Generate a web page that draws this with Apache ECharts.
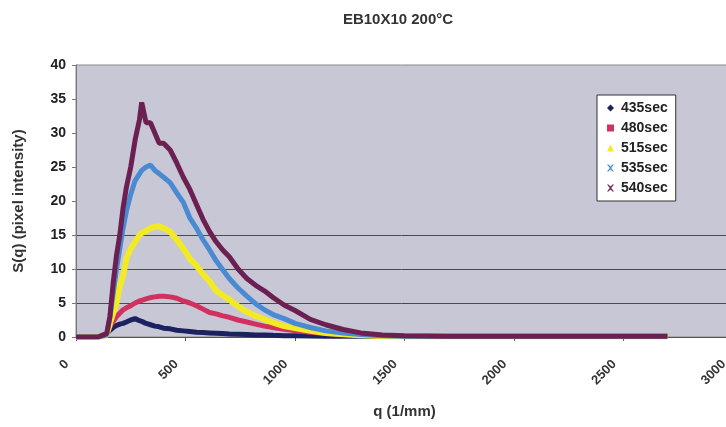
<!DOCTYPE html>
<html><head><meta charset="utf-8">
<script src="https://cdn.jsdelivr.net/npm/echarts@6/dist/echarts.min.js"></script>
<style>html,body{margin:0;padding:0;background:#fff}#c{width:726px;height:427px}</style>
</head><body><div id="c"></div>
<script>
var title = 'EB10X10 200°C';
var seriesNames = ['435sec', '480sec', '515sec', '535sec', '540sec'];
var q = [0, 50, 100, 140, 155, 170, 185, 200, 215, 230, 250, 270, 290, 300, 320, 340, 360, 380, 400, 430, 460, 490, 520, 550, 580, 610, 640, 670, 700, 740, 780, 820, 860, 900, 950, 1000, 1070, 1140, 1220, 1300, 1400, 1500, 1700, 1900, 2100, 2300, 2500, 2700];
var s435 = [0, 0, 0, 0.4, 1.0, 1.4, 1.7, 1.9, 2.0, 2.2, 2.5, 2.7, 2.4, 2.3, 2.0, 1.8, 1.6, 1.5, 1.3, 1.2, 1.0, 0.9, 0.8, 0.7, 0.65, 0.6, 0.55, 0.5, 0.45, 0.4, 0.35, 0.3, 0.3, 0.25, 0.2, 0.2, 0.15, 0.1, 0.1, 0.1, 0.1, 0.1, 0.1, 0.1, 0.1, 0.1, 0.1, 0.1];
var s480 = [0, 0, 0, 0.5, 1.5, 2.3, 3.0, 3.5, 4.0, 4.3, 4.6, 5.0, 5.3, 5.4, 5.6, 5.8, 5.9, 6.0, 6.0, 5.9, 5.7, 5.3, 5.0, 4.6, 4.1, 3.6, 3.4, 3.1, 2.9, 2.5, 2.2, 1.9, 1.6, 1.4, 1.15, 0.95, 0.7, 0.5, 0.35, 0.25, 0.15, 0.1, 0.1, 0.1, 0.1, 0.1, 0.1, 0.1];
var s515 = [0, 0, 0, 0.3, 2.0, 3.5, 5.0, 7.5, 9.0, 11.5, 13.0, 14.0, 15.0, 15.3, 15.6, 16.0, 16.2, 16.3, 16.0, 15.5, 14.3, 13.0, 11.5, 10.5, 9.2, 8.2, 6.8, 6.1, 5.5, 4.5, 3.7, 3.1, 2.6, 2.1, 1.6, 1.3, 0.9, 0.6, 0.4, 0.25, 0.15, 0.1, 0.1, 0.1, 0.1, 0.1, 0.1, 0.1];
var s535 = [0, 0, 0, 0.3, 3.0, 6.5, 10.0, 13.0, 16.0, 18.5, 21.0, 23.0, 24.0, 24.5, 25.0, 25.3, 24.5, 24.0, 23.5, 22.7, 21.2, 19.8, 17.5, 16.0, 14.3, 12.8, 11.2, 9.9, 8.6, 7.2, 6.0, 4.9, 4.0, 3.3, 2.7, 2.0, 1.4, 0.9, 0.6, 0.35, 0.2, 0.1, 0.1, 0.1, 0.1, 0.1, 0.1, 0.1];
var s540 = [0, 0, 0, 0.5, 3.0, 8.0, 12.0, 15.0, 19.0, 22.0, 25.0, 29.0, 32.0, 34.5, 31.5, 31.5, 30.0, 28.5, 28.5, 27.5, 25.6, 23.5, 21.7, 19.5, 17.3, 15.5, 14.0, 12.8, 11.8, 10.0, 8.6, 7.6, 6.8, 5.8, 4.7, 3.9, 2.6, 1.8, 1.1, 0.6, 0.3, 0.2, 0.1, 0.1, 0.1, 0.1, 0.1, 0.1];
var xTicks = [0, 500, 1000, 1500, 2000, 2500, 3000];
var yTicks = [0, 5, 10, 15, 20, 25, 30, 35, 40];

var colors = ['#1c2160', '#d2305e', '#f2ea24', '#4a8ad2', '#6c2052'];
var icons = ['diamond', 'rect', 'triangle',
  'path://M0,0L2,0L5,3L8,0L10,0L6,5L10,10L8,10L5,7L2,10L0,10L4,5Z',
  'path://M0,0L2,0L5,3L8,0L10,0L6,5L10,10L8,10L5,7L2,10L0,10L4,5Z'];
var allData = [s435, s480, s515, s535, s540];
var font = 'Liberation Sans';

function pairs(arr) { return q.map(function (v, i) { return [v, arr[i]]; }); }

var series = seriesNames.map(function (n, i) {
  return {
    name: n, type: 'line', data: pairs(allData[i]),
    symbol: 'none', smooth: false,
    lineStyle: { color: colors[i], width: i === 2 ? 6 : 5 },
    itemStyle: { color: colors[i] }
  };
});

var gridColors = yTicks.map(function (t) { return (t >= 5 && t <= 15) ? '#4a4a4a' : 'rgba(0,0,0,0)'; });

var chart = echarts.init(document.getElementById('c'));
chart.setOption({
  animation: false,
  backgroundColor: '#ffffff',
  color: colors,
  title: {
    text: title, left: 393, top: 7, textAlign: 'center',
    textStyle: { fontFamily: font, fontWeight: 'bold', fontSize: 15, color: '#333' }
  },
  legend: {
    orient: 'vertical', left: 597, top: 95,
    backgroundColor: '#ffffff', borderColor: '#333', borderWidth: 1,
    padding: [6, 8, 6, 10], itemGap: 6, itemWidth: 7, itemHeight: 7,
    textStyle: { fontFamily: font, fontWeight: 'bold', fontSize: 14, color: '#222', padding: [0, 0, 0, 2] },
    data: seriesNames.map(function (n, i) { return { name: n, icon: icons[i] }; })
  },
  grid: {
    left: 76, top: 65, width: 657, height: 272, show: true,
    outerBoundsMode: 'none', containLabel: false,
    backgroundColor: '#c7c7d6', borderColor: '#8a8a8a', borderWidth: 1
  },
  xAxis: {
    type: 'value', min: 0, max: 3000, interval: 500,
    name: 'q (1/mm)', nameLocation: 'middle', nameGap: 67,
    nameTextStyle: { fontFamily: font, fontWeight: 'bold', fontSize: 15, color: '#333' },
    axisLine: { show: true, lineStyle: { color: '#555', width: 1 } },
    axisTick: { show: true, length: 4, lineStyle: { color: '#555' } },
    splitLine: { show: false },
    axisLabel: { rotate: 45, margin: 16, padding: [0, 13, 0, 0], fontFamily: font, fontWeight: 'bold', fontSize: 13, color: '#333',
      formatter: function (v) { return String(v); } }
  },
  yAxis: {
    type: 'value', min: 0, max: 40, interval: 5,
    name: 'S(q) (pixel intensity)', nameLocation: 'middle', nameGap: 50, nameRotate: 90,
    nameTextStyle: { fontFamily: font, fontWeight: 'bold', fontSize: 15, color: '#333' },
    axisLine: { show: true, lineStyle: { color: '#777', width: 1 } },
    axisTick: { show: true, length: 4, lineStyle: { color: '#777' } },
    splitLine: { show: true, lineStyle: { color: gridColors, width: 1 } },
    axisLabel: { margin: 10, fontFamily: font, fontWeight: 'bold', fontSize: 14, color: '#222' }
  },
  series: series
});
</script></body></html>
